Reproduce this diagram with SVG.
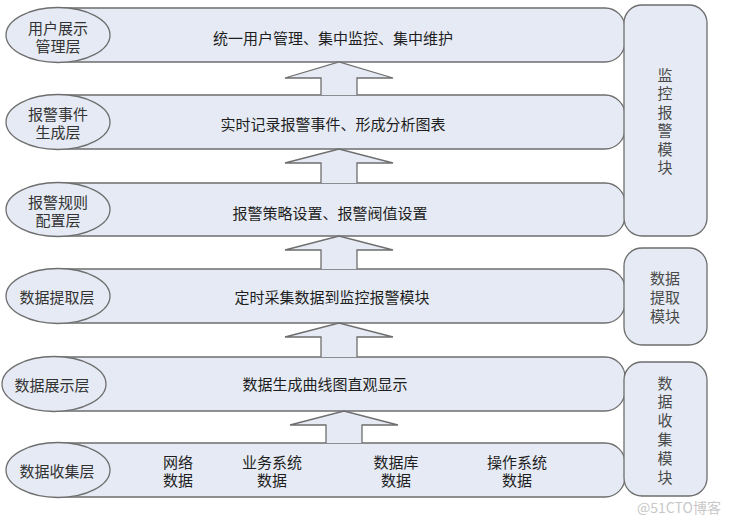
<svg xmlns="http://www.w3.org/2000/svg" width="732" height="523" viewBox="0 0 732 523">
<style>
.sh{fill:#e5eaf4;stroke:#6e6e6e;stroke-width:1.3}
.t{font-family:"Noto Sans CJK SC","Noto Sans",sans-serif;font-size:15px;fill:#1e1e1e;text-anchor:middle;dominant-baseline:central}
.l{font-family:"Noto Sans CJK SC","Noto Sans",sans-serif;font-size:15px;fill:#333;text-anchor:middle;dominant-baseline:central}
.m{font-family:"Noto Sans CJK SC","Noto Sans",sans-serif;font-size:15px;fill:#4a4a4a;text-anchor:middle;dominant-baseline:central}
.v{font-family:"Noto Sans CJK SC","Noto Sans",sans-serif;font-size:15px;fill:#4a4a4a;writing-mode:vertical-rl;text-orientation:upright}
.w{font-family:"Noto Sans CJK SC","Noto Sans",sans-serif;font-size:14px;fill:#c8c8c8;text-anchor:middle;dominant-baseline:central}
</style>
<rect width="732" height="523" fill="#fff"/>
<g id="band1">
<path class="sh" d="M58,8 H605 A20,20 0 0 1 625,28 V42 A20,20 0 0 1 605,62 H58 Z"/>
<ellipse class="sh" cx="58" cy="35" rx="52" ry="27.5"/>
<text class="l"><tspan x="58" y="27">用户展示</tspan><tspan x="58" y="45">管理层</tspan></text>
<text class="t" x="333" y="37">统一用户管理、集中监控、集中维护</text>
</g>
<g id="band2">
<path class="sh" d="M58,95 H605 A20,20 0 0 1 625,115 V129 A20,20 0 0 1 605,149 H58 Z"/>
<ellipse class="sh" cx="58" cy="122" rx="52" ry="27.5"/>
<text class="l"><tspan x="58" y="113">报警事件</tspan><tspan x="58" y="131">生成层</tspan></text>
<text class="t" x="333" y="123">实时记录报警事件、形成分析图表</text>
</g>
<g id="band3">
<path class="sh" d="M58,183 H605 A20,20 0 0 1 625,203 V216 A20,20 0 0 1 605,236 H58 Z"/>
<ellipse class="sh" cx="58" cy="209.5" rx="52" ry="27"/>
<text class="l"><tspan x="58" y="201">报警规则</tspan><tspan x="58" y="219">配置层</tspan></text>
<text class="t" x="330" y="212">报警策略设置、报警阀值设置</text>
</g>
<g id="band4">
<path class="sh" d="M58,269 H605 A20,20 0 0 1 625,289 V303 A20,20 0 0 1 605,323 H58 Z"/>
<ellipse class="sh" cx="58" cy="296" rx="52" ry="27.5"/>
<text class="l" x="57" y="296">数据提取层</text>
<text class="t" x="332" y="296">定时采集数据到监控报警模块</text>
</g>
<g id="band5">
<path class="sh" d="M54,357 H605 A20,20 0 0 1 625,377 V391 A20,20 0 0 1 605,411 H54 Z"/>
<ellipse class="sh" cx="54" cy="384" rx="52" ry="27.5"/>
<text class="l" x="52" y="384">数据展示层</text>
<text class="t" x="325" y="383">数据生成曲线图直观显示</text>
</g>
<g id="band6">
<path class="sh" d="M58,443 H605 A20,20 0 0 1 625,463 V477 A20,20 0 0 1 605,497 H58 Z"/>
<ellipse class="sh" cx="58" cy="470" rx="52" ry="27.5"/>
<text class="l" x="57" y="470">数据收集层</text>
<text class="t"><tspan x="178" y="461">网络</tspan><tspan x="178" y="479">数据</tspan></text>
<text class="t"><tspan x="272" y="461">业务系统</tspan><tspan x="272" y="479">数据</tspan></text>
<text class="t"><tspan x="396" y="461">数据库</tspan><tspan x="396" y="479">数据</tspan></text>
<text class="t"><tspan x="517" y="461">操作系统</tspan><tspan x="517" y="479">数据</tspan></text>
</g>
<g id="monitor">
<rect class="sh" x="624" y="5" width="83" height="231" rx="18"/>
<text class="v" x="665" y="67.5" letter-spacing="3.5">监控报警模块</text>
</g>
<g id="extract">
<rect class="sh" x="624" y="248" width="83" height="97" rx="18"/>
<text class="m"><tspan x="665" y="277">数据</tspan><tspan x="665" y="296">提取</tspan><tspan x="665" y="315">模块</tspan></text>
</g>
<g id="collect">
<rect class="sh" x="624" y="362" width="83" height="134" rx="18"/>
<text class="v" x="665" y="375.5" letter-spacing="3.8">数据收集模块</text>
</g>
<g id="connectors">
<path class="sh" d="M357,95 V78 H393 L339,62 L285,78 H321 V95"/>
<path class="sh" d="M357,183 V163 H393 L339,149 L285,163 H321 V183"/>
<path class="sh" d="M357,269 V250 H393 L339,236 L285,250 H321 V269"/>
<path class="sh" d="M357,357 V337 H393 L339,323 L285,337 H321 V357"/>
<path class="sh" d="M362,443 V425 H398 L344,411 L290,425 H326 V443"/>
</g>
<text class="w" x="679" y="507">@51CTO博客</text>
</svg>
